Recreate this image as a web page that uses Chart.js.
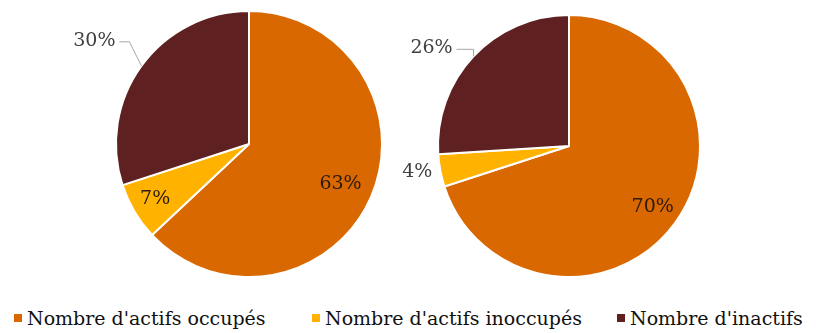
<!DOCTYPE html>
<html>
<head>
<meta charset="utf-8">
<script src="https://cdn.jsdelivr.net/npm/chart.js@4"></script>
<style>
  body { margin: 0; background: #fff; width: 816px; height: 333px; overflow: hidden; position: relative; }
  .pie { position: absolute; top: 0; height: 295px; }
  #pie-left { left: 0; width: 400px; }
  #pie-right { left: 400px; width: 416px; }
  #legend { position: absolute; top: 307px; left: 0; width: 816px; height: 26px;
            font-family: "DejaVu Serif", serif; font-size: 19px; color: #111; }
  .item { position: absolute; top: 0; white-space: nowrap; }
  .item i { display: inline-block; width: 8px; height: 8px; margin-right: 5px; vertical-align: 3px; }
</style>
</head>
<body>
<div class="pie" id="pie-left"><canvas id="c1"></canvas></div>
<div class="pie" id="pie-right"><canvas id="c2"></canvas></div>
<div id="legend"></div>
<script>
// ─── Données ─────────────────────────────────────────────────────────────────
const categories = ["Nombre d'actifs occupés", "Nombre d'actifs inoccupés", "Nombre d'inactifs"];
const valuesLeft = [63, 7, 30];
const valuesRight = [70, 4, 26];
const colors = ["#D96800", "#FFB300", "#5E2020"];

// ─── Étiquettes en % (dedans ou dehors avec trait de rappel) ────────────────
const pctLabels = {
  id: "pctLabels",
  afterDatasetsDraw(chart, args, opts) {
    const { ctx } = chart;
    const meta = chart.getDatasetMeta(0);
    const data = chart.data.datasets[0].data;
    ctx.save();
    ctx.font = "19px 'DejaVu Serif', serif";
    ctx.textAlign = "center";
    ctx.textBaseline = "middle";
    meta.data.forEach((arc, i) => {
      const p = opts.place[i];
      const mid = (arc.startAngle + arc.endAngle) / 2;
      const r = arc.outerRadius;
      const text = data[i] + "%";
      if (p.inside) {
        ctx.fillStyle = "#2a1a10";
        ctx.fillText(text, arc.x + Math.cos(mid) * r * p.k, arc.y + Math.sin(mid) * r * p.k);
      } else {
        const ex = arc.x + Math.cos(mid) * r, ey = arc.y + Math.sin(mid) * r;
        const tx = ex + p.dx, ty = ey + p.dy;
        if (p.line) {
          ctx.strokeStyle = "#a6a6a6";
          ctx.lineWidth = 1;
          ctx.beginPath();
          ctx.moveTo(ex, ey);
          ctx.lineTo(tx + 25 + p.elbow, ty + 1);
          ctx.lineTo(tx + 25, ty + 1);
          ctx.stroke();
        }
        ctx.fillStyle = "#404040";
        ctx.fillText(text, tx, ty);
      }
    });
    ctx.restore();
  }
};

function makePie(id, values, padding, place) {
  return new Chart(document.getElementById(id), {
    type: "pie",
    data: {
      labels: categories,
      datasets: [{
        data: values,
        backgroundColor: colors,
        borderColor: "#fff",
        borderWidth: 2
      }]
    },
    options: {
      responsive: true,
      maintainAspectRatio: false,
      animation: false,
      layout: { padding },
      plugins: {
        legend: { display: false },
        tooltip: { enabled: false },
        pctLabels: { place }
      }
    },
    plugins: [pctLabels]
  });
}

makePie("c1", valuesLeft, { left: 115, right: 17, top: 10, bottom: 17 }, [
  { inside: true, k: 0.75 },
  { inside: true, k: 0.82 },
  { inside: false, dx: -47, dy: -25, line: true, elbow: 10 }
]);
makePie("c2", valuesRight, { left: 37, right: 115, top: 14, bottom: 17 }, [
  { inside: true, k: 0.79 },
  { inside: false, dx: -23, dy: 2, line: false },
  { inside: false, dx: -42, dy: -8, line: true, elbow: 17 }
]);

// ─── Légende ─────────────────────────────────────────────────────────────────
const legendX = [14, 312, 617];
const legend = document.getElementById("legend");
categories.forEach((name, i) => {
  const el = document.createElement("div");
  el.className = "item";
  el.style.left = legendX[i] + "px";
  el.innerHTML = `<i style="background:${colors[i]}"></i>${name}`;
  legend.appendChild(el);
});
</script>
</body>
</html>
